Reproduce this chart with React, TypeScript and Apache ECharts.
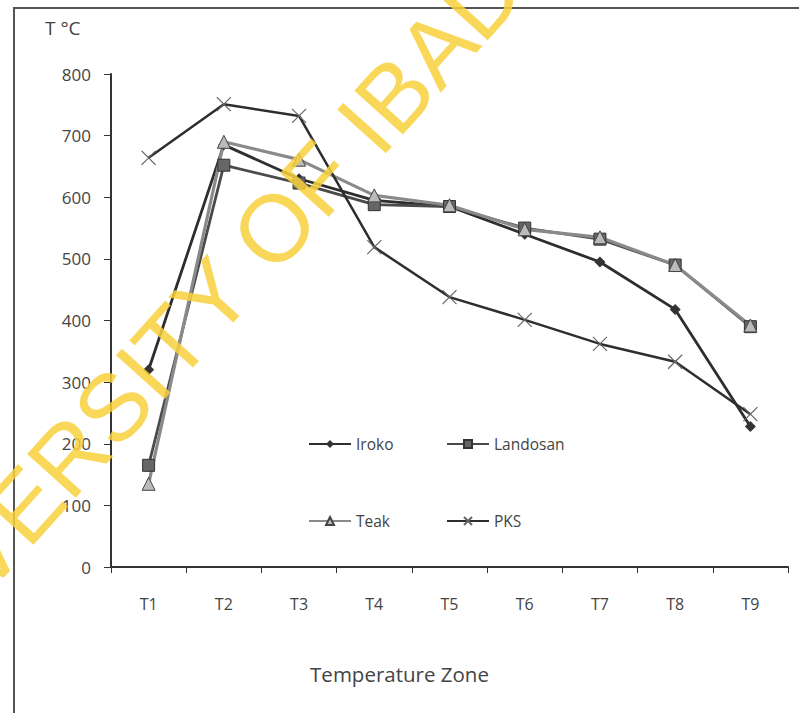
import React, { useEffect, useRef } from "react";
import * as echarts from "echarts";

const zones = ["T1", "T2", "T3", "T4", "T5", "T6", "T7", "T8", "T9"];
const iroko = [320, 685, 630, 595, 585, 540, 495, 418, 228];
const landosan = [165, 652, 623, 588, 585, 550, 532, 490, 390];
const teak = [135, 690, 661, 603, 587, 548, 535, 490, 392];
const pks = [664, 751, 732, 519, 438, 401, 362, 333, 248];
const yTicks = { min: 0, max: 800, interval: 100 };

const FONT = "Open Sans";

export default function App() {
  const ref = useRef<HTMLDivElement>(null);
  useEffect(() => {
    if (!ref.current) return;
    const chart = echarts.init(ref.current, null, { renderer: "svg" });
    const legendBase = {
      itemWidth: 42,
      itemHeight: 10,
      itemGap: 6,
      textStyle: { fontFamily: FONT, fontSize: 15.5, color: "#444" },
      orient: "horizontal",
    };
    chart.setOption({
      animation: false,
      backgroundColor: "#ffffff",
      grid: { left: 111, right: 11, top: 74, bottom: 146 },
      xAxis: {
        type: "category",
        data: zones,
        boundaryGap: true,
        axisLine: { lineStyle: { color: "#333", width: 2 } },
        axisTick: { show: true, length: 6, lineStyle: { color: "#333" } },
        axisLabel: { fontFamily: FONT, fontSize: 16, color: "#444", margin: 29 },
        splitLine: { show: false },
      },
      yAxis: {
        type: "value",
        min: yTicks.min,
        max: yTicks.max,
        interval: yTicks.interval,
        axisLine: { show: true, lineStyle: { color: "#333", width: 2 } },
        axisTick: { show: true, length: 7, lineStyle: { color: "#333" } },
        axisLabel: { fontFamily: FONT, fontSize: 17, color: "#444", margin: 20 },
        splitLine: { show: false },
      },
      legend: [
        { ...legendBase, data: ["Iroko"], left: 303, top: 431 },
        { ...legendBase, data: ["Landosan"], left: 441, top: 431 },
        { ...legendBase, data: ["Teak"], left: 303, top: 508 },
        { ...legendBase, data: ["PKS"], left: 441, top: 508 },
      ],
      series: [
        {
          name: "Iroko",
          type: "line",
          data: iroko,
          symbol: "diamond",
          symbolSize: 11,
          lineStyle: { color: "#2e2e2e", width: 2.8 },
          itemStyle: { color: "#333" },
        },
        {
          name: "Landosan",
          type: "line",
          data: landosan,
          symbol: "rect",
          symbolSize: 12,
          lineStyle: { color: "#4a4a4a", width: 2.8 },
          itemStyle: { color: "#666", borderColor: "#333", borderWidth: 1 },
        },
        {
          name: "Teak",
          type: "line",
          data: teak,
          symbol: "triangle",
          symbolSize: 13,
          lineStyle: { color: "#8a8a8a", width: 3.2 },
          itemStyle: { color: "#bbb", borderColor: "#444", borderWidth: 1 },
        },
        {
          name: "PKS",
          type: "line",
          data: pks,
          symbol: "path://M0 0L10 10M10 0L0 10",
          symbolSize: 14,
          lineStyle: { color: "#2e2e2e", width: 2.5 },
          itemStyle: { color: "none", borderColor: "#666", borderWidth: 1.2 },
        },
      ],
      graphic: [
        {
          type: "polyline",
          shape: { points: [[14, 720], [14, 8], [805, 8]] },
          style: { stroke: "#555", lineWidth: 2, fill: "none" },
          silent: true,
        },
        {
          type: "text",
          left: 45,
          top: 18,
          style: { text: "T °C", fontFamily: FONT, fontSize: 19, fill: "#444" },
        },
        {
          type: "text",
          left: "center",
          top: 663,
          style: {
            text: "Temperature Zone",
            fontFamily: FONT,
            fontSize: 20.5,
            fill: "#444",
          },
        },
        {
          type: "text",
          x: 222,
          y: 286,
          rotation: (48 * Math.PI) / 180,
          z: 100,
          silent: true,
          style: {
            text: "UNIVERSITY OF IBADAN",
            fontFamily: "Liberation Sans",
            fontSize: 95,
            fill: "rgba(247, 208, 60, 0.85)",
            align: "center",
            verticalAlign: "middle",
          },
        },
      ],
    });
    return () => chart.dispose();
  }, []);
  return (
    <div
      ref={ref}
      style={{ position: "fixed", left: 0, top: 0, width: 799, height: 713 }}
    />
  );
}
